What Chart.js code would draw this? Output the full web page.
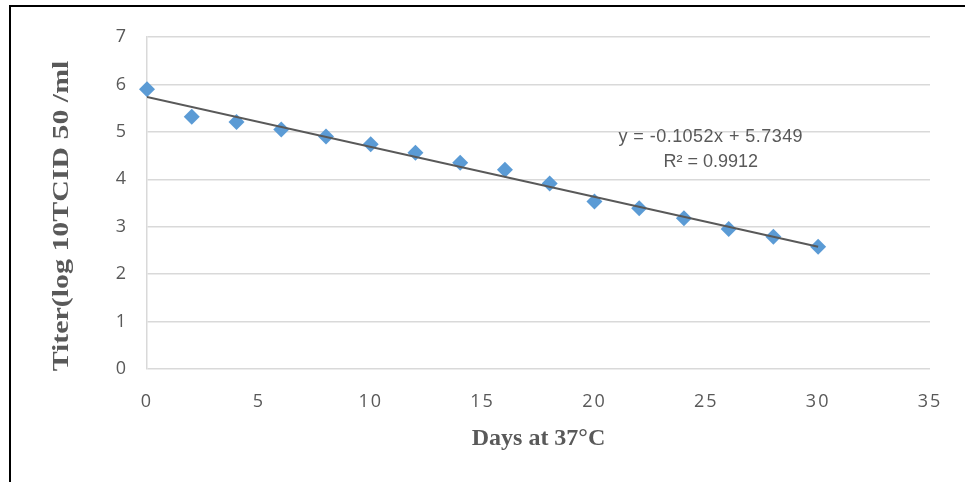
<!DOCTYPE html>
<html>
<head>
<meta charset="utf-8">
<title>Titer decay at 37°C</title>
<script src="https://cdn.jsdelivr.net/npm/chart.js@4/dist/chart.umd.min.js"></script>
<style>
  html, body { margin: 0; padding: 0; background: #fff; }
  .wrap { position: relative; width: 965px; height: 482px; }
  .frame {
    position: absolute; left: 9px; top: 5px; right: 0; bottom: 0;
    border-top: 2px solid #000; border-left: 2px solid #000;
    pointer-events: none;
  }
  canvas { position: absolute; left: 0; top: 0; }
</style>
</head>
<body>
<div class="wrap">
  <canvas id="chart" width="965" height="482"></canvas>
  <div class="frame"></div>
</div>
<script>
// measured titers
const days = [0, 2, 4, 6, 8, 10, 12, 14, 16, 18, 20, 22, 24, 26, 28, 30];
const titer = [5.90, 5.32, 5.21, 5.05, 4.90, 4.74, 4.56, 4.35, 4.20, 3.91, 3.53, 3.39, 3.18, 2.95, 2.79, 2.58];

// linear fit
const slope = -0.1052;
const intercept = 5.7349;
const rSquared = 0.9912;
const fitRange = [0, 30];

const yTitle = "Titer(log 10TCID 50 /ml";
const xTitle = "Days at 37°C";

const tickColor = "#595959";
const titleColor = "#595959";
const gridColor = "#d9d9d9";
const titleFont = "'Liberation Serif', 'Times New Roman', serif";

const points = days.map((d, i) => ({ x: d, y: titer[i] }));
const fitLine = fitRange.map((d) => ({ x: d, y: intercept + slope * d }));

// equation box next to the fit line
const equationLabel = {
  id: "equationLabel",
  afterDatasetsDraw(chart) {
    const { ctx, scales } = chart;
    const x = scales.x.getPixelForValue(25.2);
    const y = scales.y.getPixelForValue(4.89);
    ctx.save();
    ctx.font = "18px 'Liberation Sans', Arial, sans-serif";
    ctx.letterSpacing = "0.45px";
    ctx.fillStyle = tickColor;
    ctx.textAlign = "center";
    ctx.textBaseline = "middle";
    const sign = intercept >= 0 ? "+" : "-";
    ctx.fillText(`y = ${slope}x ${sign} ${Math.abs(intercept)}`, x, y);
    ctx.letterSpacing = "0px";
    ctx.fillText(`R² = ${rSquared}`, x, y + 25);
    ctx.restore();
  },
};

// wider spacing for the tick digits (x labels are drawn after the datasets)
const tickSpacing = {
  id: "tickSpacing",
  afterDatasetsDraw(chart) {
    chart.ctx.letterSpacing = "2px";
  },
  afterDraw(chart) {
    chart.ctx.letterSpacing = "0px";
  },
};

// stretched vertical axis title
const yAxisTitle = {
  id: "yAxisTitle",
  afterDraw(chart) {
    const { ctx, chartArea } = chart;
    const cy = (chartArea.top + chartArea.bottom) / 2 + 13;
    ctx.save();
    ctx.letterSpacing = "0px";
    ctx.translate(62, cy);
    ctx.rotate(-Math.PI / 2);
    ctx.scale(1.245, 1);
    ctx.font = `bold 24px ${titleFont}`;
    ctx.fillStyle = titleColor;
    ctx.textAlign = "center";
    ctx.textBaseline = "middle";
    ctx.fillText(yTitle, 0, 0);
    ctx.restore();
  },
};

const ctx = document.getElementById("chart").getContext("2d");

new Chart(ctx, {
  type: "scatter",
  data: {
    datasets: [
      {
        label: "Linear fit",
        data: fitLine,
        showLine: true,
        borderColor: "#595959",
        borderWidth: 2,
        pointRadius: 0,
        order: 0,
      },
      {
        label: "Titer",
        data: points,
        pointStyle: "rectRot",
        pointRadius: 8,
        pointBackgroundColor: "#5b9bd5",
        pointBorderColor: "#5b9bd5",
        pointBorderWidth: 0,
        clip: false,
        order: 1,
      },
    ],
  },
  plugins: [equationLabel, tickSpacing, yAxisTitle],
  options: {
    responsive: false,
    animation: false,
    layout: {
      padding: { top: 37, right: 35, left: 0, bottom: 0 },
    },
    scales: {
      x: {
        type: "linear",
        min: 0,
        max: 35,
        ticks: {
          stepSize: 5,
          padding: 22,
          z: 1,
          color: tickColor,
          font: { family: "'Open Sans', sans-serif", size: 18 },
        },
        grid: { display: false, drawTicks: false },
        border: { display: false },
        title: {
          display: true,
          text: xTitle,
          color: titleColor,
          font: { family: titleFont, size: 24, weight: "bold" },
          padding: { top: 0, bottom: 29 },
        },
        afterFit(scale) {
          scale.height = 113;
        },
      },
      y: {
        min: 0,
        max: 7,
        ticks: {
          stepSize: 1,
          padding: 21,
          color: tickColor,
          font: { family: "'Open Sans', sans-serif", size: 18 },
        },
        grid: { color: gridColor, lineWidth: 1.5, drawTicks: false },
        border: { display: true, color: gridColor, width: 1.5 },
        title: { display: false },
        afterFit(scale) {
          scale.width = 147;
        },
      },
    },
    plugins: {
      legend: { display: false },
      tooltip: { enabled: false },
    },
  },
});
</script>
</body>
</html>
